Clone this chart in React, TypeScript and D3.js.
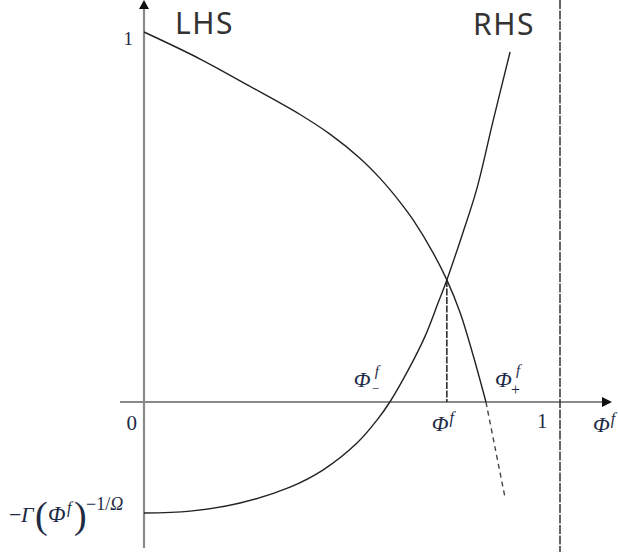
import React from 'react';
import * as d3 from 'd3';

// curve values (x = Φ^f, y = value)
const lhsX = [0, 0.135, 0.255, 0.375, 0.447, 0.519, 0.567, 0.615, 0.647, 0.695, 0.728, 0.76, 0.791, 0.822];
const lhsY = [1, 0.927, 0.853, 0.777, 0.724, 0.659, 0.605, 0.541, 0.492, 0.403, 0.33, 0.241, 0.127, 0];
const lhsTailX = [0.822, 0.844, 0.868];
const lhsTailY = [0, -0.124, -0.259];
const rhsX = [0, 0.111, 0.231, 0.351, 0.43, 0.512, 0.56, 0.591, 0.635, 0.675, 0.707, 0.728, 0.767, 0.8, 0.839, 0.88];
const rhsY = [-0.3, -0.295, -0.273, -0.23, -0.184, -0.111, -0.049, 0, 0.086, 0.176, 0.268, 0.33, 0.459, 0.576, 0.759, 0.946];
const phiF = 0.728;
const phiMinus = 0.591;
const phiPlus = 0.822;

const W = 618;
const H = 552;

const mathFont = '"Liberation Serif", "DejaVu Serif", serif';
const textCol = '#1e2a44';

export default function App() {
  const x = d3.scaleLinear().domain([0, 1]).range([144, 560]);
  const y = d3.scaleLinear().domain([0, 1]).range([402, 32]);

  const line = d3
    .line<[number, number]>()
    .x(d => x(d[0]))
    .y(d => y(d[1]))
    .curve(d3.curveCatmullRom.alpha(0.5));

  const lhs = line(lhsX.map((v, i) => [v, lhsY[i]]) as [number, number][]) || '';
  const tail = line(lhsTailX.map((v, i) => [v, lhsTailY[i]]) as [number, number][]) || '';
  const rhs = line(rhsX.map((v, i) => [v, rhsY[i]]) as [number, number][]) || '';

  const x0 = x(0);
  const y0 = y(0);
  const gammaY = y(rhsY[0]);

  return (
    <svg width={W} height={H} style={{ position: 'absolute', left: 0, top: 0, background: '#fff' }}>
      {/* axes */}
      <line x1={x0} x2={x0} y1={4} y2={548} stroke="#8a8a8a" strokeWidth={2.2} />
      <line x1={120} x2={606} y1={y0} y2={y0} stroke="#8a8a8a" strokeWidth={2.2} />
      <path d={`M${x0},0 L${x0 - 5},9 L${x0 + 5},9 Z`} fill="#111" />
      <path d={`M612,${y0} L602,${y0 - 5} L602,${y0 + 5} Z`} fill="#111" />

      {/* vertical reference at Φ = 1 */}
      <line x1={x(1)} x2={x(1)} y1={0} y2={H} stroke="#333" strokeWidth={1.5} strokeDasharray="9 1.5" />
      {/* Φ^f drop line */}
      <line x1={x(phiF)} x2={x(phiF)} y1={y(rhsY[rhsX.indexOf(phiF)])} y2={y0} stroke="#222" strokeWidth={1.5} strokeDasharray="7 1.5" />

      {/* curves */}
      <path d={lhs} fill="none" stroke="#222" strokeWidth={1.4} />
      <path d={tail} fill="none" stroke="#444" strokeWidth={1.4} strokeDasharray="5 4" />
      <path d={rhs} fill="none" stroke="#222" strokeWidth={1.4} />

      {/* curve names */}
      <text x={175} y={34} fontFamily="'Noto Sans', sans-serif" fontSize={30} letterSpacing={1.5} fill="#333">LHS</text>
      <text x={473} y={35} fontFamily="'Noto Sans', sans-serif" fontSize={30} letterSpacing={1.5} fill="#333">RHS</text>

      {/* tick labels */}
      <text x={x0 - 11} y={y(1) + 13} textAnchor="end" fontFamily={mathFont} fontSize={19} fill={textCol}>1</text>
      <text x={x0 - 7} y={y0 + 28} textAnchor="end" fontFamily={mathFont} fontSize={21} fill={textCol}>0</text>
      <text x={x(1) - 23} y={y0 + 26} fontFamily={mathFont} fontSize={21} fill={textCol}>1</text>

      {/* Φ^f under the axis */}
      <text x={x(phiF) - 15} y={y0 + 29} fontFamily={mathFont} fontStyle="italic" fontSize={22} fill={textCol}>
        Φ<tspan dx={1} dy={-8} fontSize={16}>f</tspan>
      </text>
      {/* axis name */}
      <text x={593} y={y0 + 30} fontFamily={mathFont} fontStyle="italic" fontSize={22} fill={textCol}>
        Φ<tspan dx={1} dy={-8} fontSize={16}>f</tspan>
      </text>

      {/* Φ_-^f */}
      <text x={x(phiMinus) - 36} y={y0 - 15} fontFamily={mathFont} fontStyle="italic" fontSize={22} fill={textCol}>Φ</text>
      <text x={x(phiMinus) - 15} y={y0 - 26} fontFamily={mathFont} fontStyle="italic" fontSize={15} fill={textCol}>f</text>
      <text x={x(phiMinus) - 18} y={y0 - 9} fontFamily={mathFont} fontSize={13} fill={textCol}>−</text>

      {/* Φ_+^f */}
      <text x={x(phiPlus) + 9} y={y0 - 15} fontFamily={mathFont} fontStyle="italic" fontSize={22} fill={textCol}>Φ</text>
      <text x={x(phiPlus) + 30} y={y0 - 27} fontFamily={mathFont} fontStyle="italic" fontSize={15} fill={textCol}>f</text>
      <text x={x(phiPlus) + 25} y={y0 - 7} fontFamily={mathFont} fontSize={16} fill={textCol}>+</text>

      {/* −Γ(Φ^f)^{−1/Ω} */}
      <g fontFamily={mathFont} fill={textCol}>
        <text x={9} y={gammaY + 9} fontSize={22}>−</text>
        <text x={21} y={gammaY + 9} fontSize={22} fontStyle="italic">Γ</text>
        <text x={35} y={gammaY + 15} fontSize={38} fontWeight={300}>(</text>
        <text x={48} y={gammaY + 9} fontSize={23} fontStyle="italic">Φ</text>
        <text x={67} y={gammaY} fontSize={16} fontStyle="italic">f</text>
        <text x={74} y={gammaY + 15} fontSize={38} fontWeight={300}>)</text>
        <text x={86} y={gammaY - 3} fontSize={18}>−1/<tspan fontStyle="italic">Ω</tspan></text>
      </g>
    </svg>
  );
}
